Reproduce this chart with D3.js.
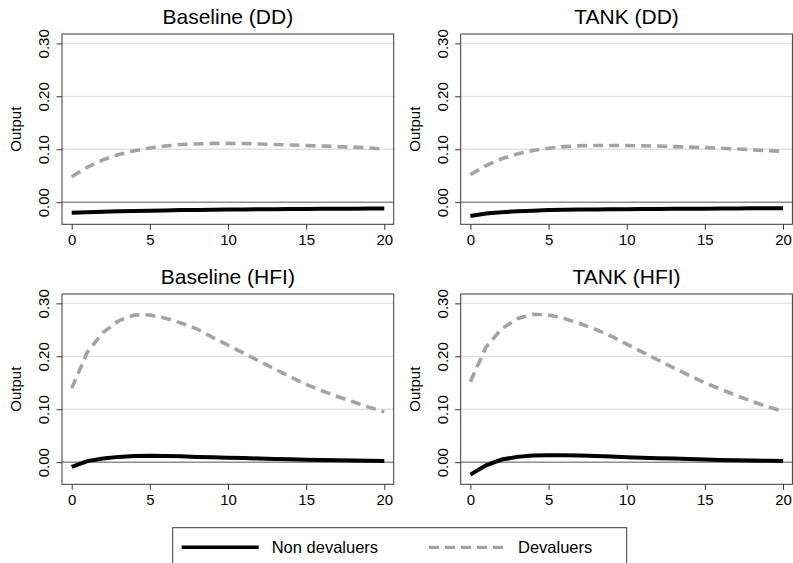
<!DOCTYPE html>
<html>
<head>
<meta charset="utf-8">
<script src="https://cdn.jsdelivr.net/npm/d3@7"></script>
<style>
  body { margin: 0; background: #fff; }
  svg { display: block; font-family: "Liberation Sans", Arial, Helvetica, sans-serif; }
</style>
</head>
<body>
<svg id="chart" width="793" height="563"></svg>
<script>
// horizon (quarters) and tick labels
var horizon = [0,1,2,3,4,5,6,7,8,9,10,11,12,13,14,15,16,17,18,19,20]
var xTicks = [0,5,10,15,20]
var yTicks = [0,0.1,0.2,0.3]
var yTickLabels = ["0.00","0.10","0.20","0.30"]
var panelTitles = ["Baseline (DD)", "TANK (DD)", "Baseline (HFI)", "TANK (HFI)"]
var seriesNames = ["Non devaluers", "Devaluers"]

var baseDDNon = [-0.020,-0.019,-0.018,-0.017,-0.0165,-0.016,-0.0155,-0.015,-0.0148,-0.0145,-0.014,
                 -0.0138,-0.0135,-0.0133,-0.013,-0.0128,-0.0126,-0.0124,-0.0122,-0.012,-0.0118]
var baseDDDev = [0.048,0.066,0.080,0.090,0.097,0.1025,0.106,0.109,0.110,0.111,0.111,
                 0.1108,0.110,0.109,0.108,0.107,0.106,0.105,0.104,0.1025,0.100]
var tankDDNon = [-0.026,-0.0215,-0.019,-0.017,-0.016,-0.015,-0.0145,-0.014,-0.0138,-0.0135,-0.0133,
                 -0.013,-0.0128,-0.0126,-0.0124,-0.0122,-0.012,-0.0118,-0.0117,-0.0116,-0.0115]
var tankDDDev = [0.052,0.069,0.082,0.091,0.0975,0.102,0.105,0.1065,0.107,0.107,0.107,
                 0.1065,0.106,0.105,0.104,0.103,0.102,0.1005,0.099,0.0975,0.096]
var baseHFINon = [-0.009,0.002,0.007,0.010,0.0115,0.012,0.0118,0.011,0.010,0.0092,0.0085,
                  0.0077,0.007,0.0062,0.0055,0.0048,0.0042,0.0036,0.003,0.0025,0.002]
var baseHFIDev = [0.1395,0.208,0.245,0.267,0.278,0.278,0.272,0.263,0.252,0.236,0.221,
                  0.206,0.191,0.176,0.161,0.147,0.135,0.124,0.114,0.104,0.095]
var tankHFINon = [-0.0235,-0.006,0.005,0.010,0.0127,0.0133,0.0133,0.0127,0.0115,0.0105,0.0095,
                  0.0085,0.0076,0.0068,0.006,0.005,0.0043,0.0036,0.003,0.0025,0.002]
var tankHFIDev = [0.152,0.2175,0.252,0.271,0.2795,0.278,0.2715,0.262,0.251,0.238,0.223,
                  0.208,0.193,0.178,0.164,0.150,0.138,0.126,0.115,0.105,0.096]

var panelData = [
    [baseDDNon, baseDDDev],
    [tankDDNon, tankDDDev],
    [baseHFINon, baseHFIDev],
    [tankHFINon, tankHFIDev]
]

var svg = d3.select("#chart")

var lefts = [62, 460.7], tops = [34, 294]
var pw = 331.7, ph = 190.3

var x = d3.scaleLinear().domain([-0.62, 20.6]).range([0, pw])
var y = d3.scaleLinear().domain([-0.0418, 0.3177]).range([ph, 0])

var lineStyles = [
    {stroke: "#000", width: 4, dash: null},
    {stroke: "#a3a3a3", width: 3.6, dash: "10,6"}
]

var valueLine = d3.line()
    .x(function(d, i){ return x(horizon[i]) })
    .y(function(d){ return y(d) })

panelData.forEach(function(series, p){
    var g = svg.append("g")
        .attr("transform", "translate(" + lefts[p % 2] + "," + tops[Math.floor(p / 2)] + ")")

    // gridlines
    g.selectAll(".grid").data(yTicks.filter(function(t){ return t > 0 }))
        .enter().append("line")
        .attr("x1", 0).attr("x2", pw)
        .attr("y1", function(d){ return y(d) }).attr("y2", function(d){ return y(d) })
        .attr("stroke", "#e1e1e1").attr("stroke-width", 1.3)

    // zero line
    g.append("line")
        .attr("x1", 0).attr("x2", pw)
        .attr("y1", y(0)).attr("y2", y(0))
        .attr("stroke", "#555").attr("stroke-width", 1)

    // series
    series.forEach(function(vals, s){
        g.append("path")
            .datum(vals)
            .attr("fill", "none")
            .attr("stroke", lineStyles[s].stroke)
            .attr("stroke-width", lineStyles[s].width)
            .attr("stroke-dasharray", lineStyles[s].dash)
            .attr("d", valueLine)
    })

    // frame
    g.append("rect")
        .attr("width", pw).attr("height", ph)
        .attr("fill", "none").attr("stroke", "#3a3a3a").attr("stroke-width", 1)

    // y axis
    var ya = g.append("g")
        .call(d3.axisLeft(y).tickValues(yTicks).tickSize(5.5)
            .tickFormat(function(d, i){ return yTickLabels[i] }))
    ya.select(".domain").remove()
    ya.selectAll("line").attr("stroke", "#333")
    ya.selectAll("text")
        .attr("transform", "rotate(-90)")
        .attr("x", 0).attr("y", -13).attr("dy", 0)
        .attr("text-anchor", "middle")
        .attr("font-size", 15).attr("font-family", null).attr("fill", "#000")

    // x axis
    var xa = g.append("g")
        .attr("transform", "translate(0," + ph + ")")
        .call(d3.axisBottom(x).tickValues(xTicks).tickSize(5.5))
    xa.select(".domain").remove()
    xa.selectAll("line").attr("stroke", "#333")
    xa.selectAll("text")
        .attr("y", 20.5).attr("dy", 0)
        .attr("font-size", 15).attr("font-family", null).attr("fill", "#000")

    // axis title
    g.append("text")
        .attr("transform", "translate(-41," + (ph / 2) + ") rotate(-90)")
        .attr("text-anchor", "middle")
        .attr("font-size", 15)
        .text("Output")

    // panel title
    g.append("text")
        .attr("x", pw / 2).attr("y", -10.5)
        .attr("text-anchor", "middle")
        .attr("font-size", 21)
        .text(panelTitles[p])
})

// legend
var leg = svg.append("g")
leg.append("rect")
    .attr("x", 172.7).attr("y", 527.7).attr("width", 454).attr("height", 60)
    .attr("fill", "#fff").attr("stroke", "#3a3a3a").attr("stroke-width", 1)

var legX = [181.7, 429], legTextX = [271.7, 518]
seriesNames.forEach(function(name, s){
    leg.append("line")
        .attr("x1", legX[s]).attr("x2", legX[s] + 77)
        .attr("y1", 547.3).attr("y2", 547.3)
        .attr("stroke", lineStyles[s].stroke)
        .attr("stroke-width", s == 0 ? 3.5 : 3.3)
        .attr("stroke-dasharray", lineStyles[s].dash)
    leg.append("text")
        .attr("x", legTextX[s]).attr("y", 553)
        .attr("font-size", 16.5)
        .text(name)
})
</script>
</body>
</html>
